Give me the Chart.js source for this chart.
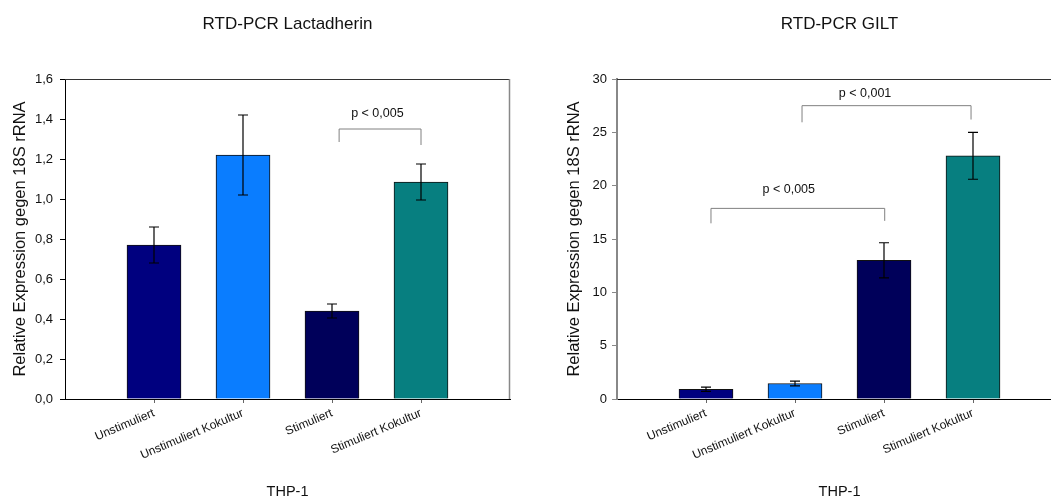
<!DOCTYPE html>
<html><head><meta charset="utf-8">
<script src="https://cdn.jsdelivr.net/npm/chart.js@4/dist/chart.umd.min.js"></script>
<style>
html,body{margin:0;padding:0;background:#fff;overflow:hidden;width:1051px;height:497px;}
#c1{position:absolute;left:0;top:0;}
#c2{position:absolute;left:530px;top:0;}
</style></head><body>
<canvas id="c1" width="575" height="497"></canvas>
<canvas id="c2" width="618" height="497"></canvas>
<script>
// ---- data ----
const categories = ['Unstimuliert', 'Unstimuliert Kokultur', 'Stimuliert', 'Stimuliert Kokultur'];
const categoryPos = [1, 2, 3, 4];
const barColors = ['#00007f', '#0a7dff', '#00005a', '#077f80'];

const lactTitle = 'RTD-PCR Lactadherin';
const lactValues = [0.77, 1.22, 0.44, 1.085];
const lactErrors = [0.09, 0.20, 0.035, 0.09];
const lactTicks = [0, 0.2, 0.4, 0.6, 0.8, 1.0, 1.2, 1.4, 1.6];
const lactBracketX1 = [3.08];
const lactBracketX2 = [4.0];
const lactBracketTop = [1.35];
const lactBracketLeg1 = [1.285];
const lactBracketLeg2 = [1.27];
const lactBracketText = ['p < 0,005'];
const lactBracketTextX = [3.51];
const lactBracketTextY = [1.425];

const giltTitle = 'RTD-PCR GILT';
const giltValues = [0.91, 1.45, 13.0, 22.8];
const giltErrors = [0.2, 0.22, 1.65, 2.2];
const giltTicks = [0, 5, 10, 15, 20, 25, 30];
const giltBracketX1 = [1.056, 2.079];
const giltBracketX2 = [3.008, 3.978];
const giltBracketTop = [17.87, 27.5];
const giltBracketLeg1 = [16.47, 25.94];
const giltBracketLeg2 = [16.7, 26.2];
const giltBracketText = ['p < 0,005', 'p < 0,001'];
const giltBracketTextX = [1.93, 2.787];
const giltBracketTextY = [19.66, 28.66];

const yTitle = 'Relative Expression gegen 18S rRNA';
const xTitle = 'THP-1';
const FONT = "'Liberation Sans', Arial, sans-serif";

function makeChart(id, cfg) {
  const extras = {
    id: 'extras',
    afterDatasetsDraw(chart) {
      const ctx = chart.ctx, xs = chart.scales.x, ys = chart.scales.y, a = chart.chartArea;
      ctx.save();
      // frame top / right
      ctx.strokeStyle = '#333';
      ctx.lineWidth = 1;
      ctx.beginPath();
      ctx.moveTo(a.left, a.top + 0.5); ctx.lineTo(a.right, a.top + 0.5);
      ctx.stroke();
      ctx.strokeStyle = '#888';
      ctx.lineWidth = 1.5;
      ctx.beginPath();
      ctx.moveTo(a.right - 0.5, a.top); ctx.lineTo(a.right - 0.5, a.bottom);
      ctx.stroke();
      // error bars
      ctx.strokeStyle = '#000';
      ctx.lineWidth = 1.2;
      cfg.values.forEach((v, i) => {
        const x = xs.getPixelForValue(categoryPos[i]);
        const yt = ys.getPixelForValue(v + cfg.errors[i]);
        const yb = ys.getPixelForValue(v - cfg.errors[i]);
        ctx.beginPath();
        ctx.moveTo(x, yt); ctx.lineTo(x, yb);
        ctx.moveTo(x - 5, yt); ctx.lineTo(x + 5, yt);
        ctx.moveTo(x - 5, yb); ctx.lineTo(x + 5, yb);
        ctx.stroke();
      });
      // brackets
      ctx.strokeStyle = '#808080';
      ctx.lineWidth = 1;
      ctx.fillStyle = '#111';
      ctx.font = '12.5px ' + FONT;
      ctx.textAlign = 'center';
      ctx.textBaseline = 'middle';
      cfg.bx1.forEach((bx, i) => {
        const x1 = xs.getPixelForValue(bx), x2 = xs.getPixelForValue(cfg.bx2[i]);
        const yt = ys.getPixelForValue(cfg.btop[i]);
        const y1 = ys.getPixelForValue(cfg.bleg1[i]);
        const y2 = ys.getPixelForValue(cfg.bleg2[i]);
        ctx.beginPath();
        ctx.moveTo(x1, y1); ctx.lineTo(x1, yt); ctx.lineTo(x2, yt); ctx.lineTo(x2, y2);
        ctx.stroke();
        ctx.fillText(cfg.btext[i], xs.getPixelForValue(cfg.btx[i]), ys.getPixelForValue(cfg.bty[i]));
      });
      // chart title
      ctx.fillStyle = '#111';
      ctx.font = '17px ' + FONT;
      ctx.fillText(cfg.title, (a.left + a.right) / 2, 24);
      ctx.restore();
    }
  };
  return new Chart(document.getElementById(id), {
    type: 'bar',
    data: {
      datasets: [{
        data: cfg.values.map((v, i) => ({x: categoryPos[i], y: v})),
        backgroundColor: barColors,
        borderColor: '#111',
        borderWidth: 1,
        barThickness: 54
      }]
    },
    options: {
      responsive: false,
      animation: false,
      devicePixelRatio: 1,
      layout: {padding: {top: 79, right: cfg.padRight, bottom: 0, left: 0}},
      plugins: {legend: {display: false}, tooltip: {enabled: false}, title: {display: false}},
      scales: {
        x: {
          type: 'linear', min: 0, max: 5, offset: false,
          grid: {offset: false, drawOnChartArea: false, drawTicks: true, tickLength: 4, color: '#666'},
          border: {color: '#000', width: 1},
          afterBuildTicks: s => { s.ticks = categoryPos.map(v => ({value: v})); },
          afterFit: s => { s.height = 98; },
          ticks: {
            autoSkip: false, minRotation: 23, maxRotation: 23, padding: 3,
            color: '#111', font: {family: FONT, size: 12},
            callback: v => categories[categoryPos.indexOf(v)]
          },
          title: {display: true, text: xTitle, color: '#111', font: {family: FONT, size: 14.5, lineHeight: 1}, padding: {top: 0, bottom: -2}}
        },
        y: {
          type: 'linear', min: 0, max: cfg.ticks[cfg.ticks.length - 1],
          grid: {drawOnChartArea: false, drawTicks: true, tickLength: 5, color: cfg.yColor},
          border: {color: cfg.yColor, width: cfg.yWidth},
          afterBuildTicks: s => { s.ticks = cfg.ticks.map(v => ({value: v})); },
          afterFit: s => { s.width = cfg.yAxisWidth; },
          ticks: {
            padding: cfg.tickPad, color: '#111', font: {family: FONT, size: 13},
            callback: cfg.fmt
          },
          title: {display: true, text: yTitle, color: '#111', font: {family: FONT, size: 16.5, lineHeight: 1.2}, padding: {top: cfg.yTitlePad, bottom: 0}}
        }
      }
    },
    plugins: [extras]
  });
}

makeChart('c1', {
  title: lactTitle, values: lactValues, errors: lactErrors, ticks: lactTicks,
  bx1: lactBracketX1, bx2: lactBracketX2, btop: lactBracketTop, bleg1: lactBracketLeg1, bleg2: lactBracketLeg2,
  btext: lactBracketText, btx: lactBracketTextX, bty: lactBracketTextY,
  padRight: 65, yAxisWidth: 65, yTitlePad: 11, tickPad: 7, yColor: '#000', yWidth: 1,
  fmt: v => v.toFixed(1).replace('.', ',')
});
makeChart('c2', {
  title: giltTitle, values: giltValues, errors: giltErrors, ticks: giltTicks,
  bx1: giltBracketX1, bx2: giltBracketX2, btop: giltBracketTop, bleg1: giltBracketLeg1, bleg2: giltBracketLeg2,
  btext: giltBracketText, btx: giltBracketTextX, bty: giltBracketTextY,
  padRight: 86, yAxisWidth: 87, yTitlePad: 35, tickPad: 5, yColor: '#888', yWidth: 2,
  fmt: v => String(v)
});
</script>
</body></html>
